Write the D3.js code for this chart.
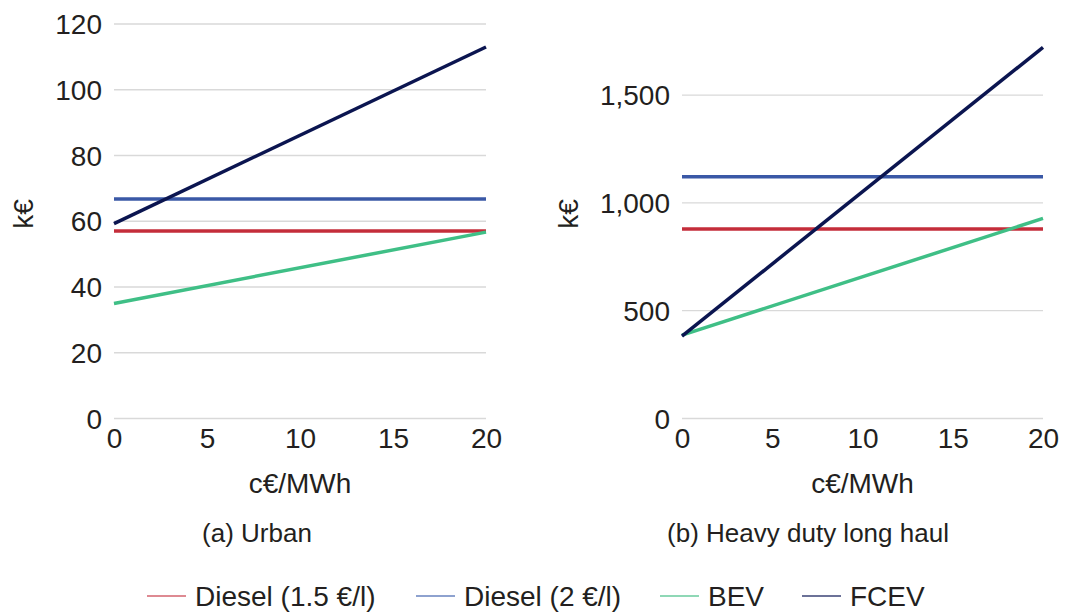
<!DOCTYPE html>
<html>
<head>
<meta charset="utf-8">
<script src="https://cdn.jsdelivr.net/npm/d3@7"></script>
<style>
  body { margin: 0; background: #fff; }
  svg text { font-family: "Liberation Sans", Arial, sans-serif; fill: #231f20; }
</style>
</head>
<body>
<div id="chart"></div>
<script>
// data
var xValues = [0, 20];
var seriesNames = ["Diesel (1.5 €/l)", "Diesel (2 €/l)", "BEV", "FCEV"];
var seriesColors = ["#c42d3a", "#3a58a6", "#3fbf86", "#0b1550"];
var legendColors = ["#de8a92", "#8ea2cf", "#8fd8b6", "#6c7298"];

var urbanDiesel15 = [57, 57];
var urbanDiesel2 = [66.8, 66.8];
var urbanBEV = [35, 56.7];
var urbanFCEV = [59.3, 113];

var haulDiesel15 = [879, 879];
var haulDiesel2 = [1122, 1122];
var haulBEV = [387, 928];
var haulFCEV = [382, 1722];

var xTicks = [0, 5, 10, 15, 20];
var urbanYTicks = [0, 20, 40, 60, 80, 100, 120];
var haulYTicks = [0, 500, 1000, 1500];

var W = 1076, H = 612;
var svg = d3.select("#chart").append("svg").attr("width", W).attr("height", H);

function panel(opt) {
    var x = d3.scaleLinear().domain([0, 20]).range([opt.left, opt.right]);
    var y = d3.scaleLinear().domain([0, opt.ymax]).range([418.5, 24]);
    var g = svg.append("g");

    // gridlines
    g.selectAll("line.grid")
        .data(opt.yTicks).enter()
        .append("line")
        .attr("class", "grid")
        .attr("x1", opt.left).attr("x2", opt.right)
        .attr("y1", function (d) { return y(d); })
        .attr("y2", function (d) { return y(d); })
        .attr("stroke", "#d9d9d9")
        .attr("stroke-width", 1.3);

    // y axis
    var yAxis = d3.axisLeft(y).tickValues(opt.yTicks).tickSize(0).tickPadding(12)
        .tickFormat(d3.format(","));
    var ya = g.append("g").attr("transform", "translate(" + opt.left + ",0)").call(yAxis);
    ya.select(".domain").remove();
    ya.selectAll("text").style("font-size", "28px").attr("dy", "0.34em");

    // x axis
    var xAxis = d3.axisBottom(x).tickValues(xTicks).tickSize(0).tickPadding(10);
    var xa = g.append("g").attr("transform", "translate(0,418.5)").call(xAxis);
    xa.select(".domain").remove();
    xa.selectAll("text").style("font-size", "28px").attr("dy", "0.71em");

    // series lines
    var line = d3.line()
        .x(function (d, i) { return x(xValues[i]); })
        .y(function (d) { return y(d); });
    g.selectAll("path.series")
        .data(opt.series).enter()
        .append("path")
        .attr("class", "series")
        .attr("d", line)
        .attr("fill", "none")
        .attr("stroke", function (d, i) { return seriesColors[i]; })
        .attr("stroke-width", 3.5);

    // axis titles
    g.append("text")
        .attr("x", (opt.left + opt.right) / 2).attr("y", 493)
        .attr("text-anchor", "middle")
        .style("font-size", "28px")
        .text("c€/MWh");
    g.append("text")
        .attr("transform", "translate(" + opt.ytitleX + ",214) rotate(-90)")
        .attr("text-anchor", "middle")
        .attr("dy", "0.35em")
        .style("font-size", "28px")
        .text("k€");
    g.append("text")
        .attr("x", opt.capX).attr("y", 542)
        .attr("text-anchor", "middle")
        .style("font-size", "26px")
        .text(opt.caption);
}

panel({
    left: 114, right: 486, ymax: 120, yTicks: urbanYTicks,
    series: [urbanDiesel15, urbanDiesel2, urbanBEV, urbanFCEV],
    ytitleX: 23, capX: 257, caption: "(a) Urban"
});
panel({
    left: 682, right: 1043, ymax: 1830, yTicks: haulYTicks,
    series: [haulDiesel15, haulDiesel2, haulBEV, haulFCEV],
    ytitleX: 568, capX: 808, caption: "(b) Heavy duty long haul"
});

// legend
var legendX = [147, 416, 660, 802];
var legend = svg.append("g").selectAll("g")
    .data(seriesNames).enter()
    .append("g")
    .attr("transform", function (d, i) { return "translate(" + legendX[i] + ",596)"; });
legend.append("line")
    .attr("x1", 0).attr("x2", 39)
    .attr("stroke", function (d, i) { return legendColors[i]; })
    .attr("stroke-width", 2);
legend.append("text")
    .attr("x", 48).attr("dy", "0.36em")
    .style("font-size", "28px")
    .text(function (d) { return d; });
</script>
</body>
</html>
